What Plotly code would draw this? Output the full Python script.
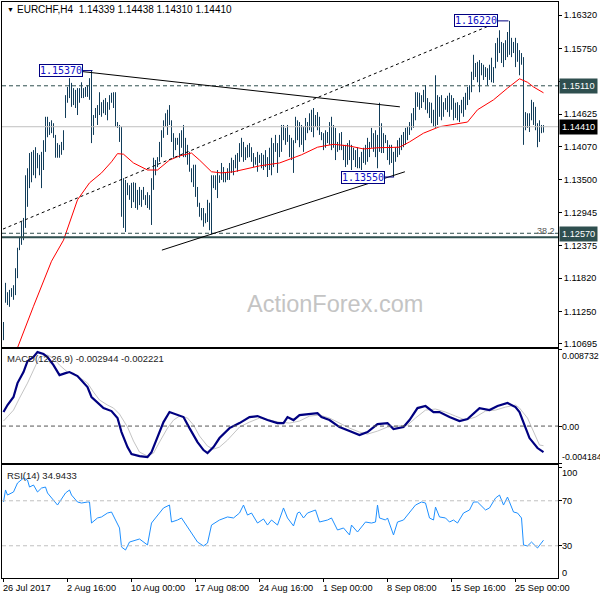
import plotly.graph_objects as go

# ---------------- data ----------------
highs = [
    1.1107, 1.1174, 1.1158, 1.1162, 1.1165, 1.1170, 1.1199, 1.1234, 1.1251, 1.1278,
    1.1285, 1.1358, 1.1370, 1.1396, 1.1398, 1.1401, 1.1406, 1.1396, 1.1393, 1.1398,
    1.1418, 1.1458, 1.1458, 1.1449, 1.1452, 1.1447, 1.1427, 1.1413, 1.1410, 1.1415,
    1.1435, 1.1495, 1.1509, 1.1524, 1.1516, 1.1507, 1.1504, 1.1507, 1.1507, 1.1517,
    1.1507, 1.1509, 1.1512, 1.1524, 1.1537, 1.1461, 1.1473, 1.1478, 1.1500, 1.1483,
    1.1487, 1.1490, 1.1483, 1.1495, 1.1499, 1.1500, 1.1500, 1.1449, 1.1444, 1.1441,
    1.1353, 1.1350, 1.1345, 1.1341, 1.1345, 1.1346, 1.1345, 1.1333, 1.1338,
    1.1333, 1.1338, 1.1324, 1.1329, 1.1324, 1.1353, 1.1388, 1.1384, 1.1389, 1.1415,
    1.1435, 1.1452, 1.1464, 1.1470, 1.1478, 1.1452, 1.1430, 1.1422, 1.1422, 1.1430,
    1.1435, 1.1444, 1.1422, 1.1410, 1.1398, 1.1370, 1.1376, 1.1376, 1.1338, 1.1311,
    1.1302, 1.1302, 1.1293, 1.1316, 1.1311, 1.1358, 1.1358, 1.1358, 1.1367, 1.1358,
    1.1379, 1.1372, 1.1362, 1.1370, 1.1379, 1.1388, 1.1384, 1.1393, 1.1396, 1.1413,
    1.1422, 1.1415, 1.1406, 1.1410, 1.1413, 1.1406, 1.1396, 1.1389, 1.1398, 1.1393,
    1.1396, 1.1393, 1.1401, 1.1389, 1.1405,
    1.1422, 1.1413, 1.1427, 1.1413, 1.1427, 1.1444, 1.1444, 1.1439, 1.1444, 1.1427,
    1.1422, 1.1418, 1.1458, 1.1452, 1.1449, 1.1444, 1.1441, 1.1456, 1.1449, 1.1464,
    1.1470, 1.1473, 1.1461, 1.1466, 1.1458, 1.1432, 1.1430, 1.1435, 1.1432, 1.1449,
    1.1458, 1.1444, 1.1439, 1.1415, 1.1430, 1.1432, 1.1410, 1.1410, 1.1413, 1.1418,
    1.1410, 1.1405, 1.1401, 1.1406, 1.1389, 1.1398, 1.1405, 1.1410, 1.1422, 1.1415,
    1.1439, 1.1430, 1.1435, 1.1427, 1.1482, 1.1447, 1.1430, 1.1427, 1.1418, 1.1410,
    1.1410, 1.1398, 1.1406, 1.1418, 1.1422, 1.1427, 1.1432, 1.1439, 1.1441,
    1.1449, 1.1464, 1.1473, 1.1500, 1.1500, 1.1499, 1.1495, 1.1504, 1.1512, 1.1490,
    1.1483, 1.1482, 1.1470, 1.1529, 1.1495, 1.1492, 1.1495, 1.1483, 1.1490, 1.1494,
    1.1499, 1.1495, 1.1490, 1.1482, 1.1483, 1.1478, 1.1487, 1.1492, 1.1499, 1.1509,
    1.1512, 1.1535, 1.1564, 1.1550, 1.1552, 1.1555, 1.1550, 1.1547, 1.1543, 1.1541,
    1.1547, 1.1559, 1.1543, 1.1584, 1.1593, 1.1606, 1.1586, 1.1584, 1.1589, 1.1603,
    1.1622, 1.1593, 1.1586, 1.1593, 1.1584, 1.1572, 1.1567, 1.1560, 1.1466, 1.1464,
    1.1464, 1.1487, 1.1483, 1.1475, 1.1447, 1.1452, 1.1444, 1.14438,
]
lows = [
    1.1076, 1.1140, 1.1136, 1.1133, 1.1150, 1.1145, 1.1153, 1.1182, 1.1230, 1.1239,
    1.1247, 1.1268, 1.1304, 1.1336, 1.1346, 1.1358, 1.1353, 1.1370, 1.1358, 1.1336,
    1.1367, 1.1398, 1.1423, 1.1427, 1.1430, 1.1422, 1.1388, 1.1388, 1.1388, 1.1393,
    1.1401, 1.1456, 1.1482, 1.1490, 1.1475, 1.1478, 1.1473, 1.1461, 1.1482, 1.1490,
    1.1490, 1.1492, 1.1492, 1.1487, 1.1413, 1.1427, 1.1456, 1.1444, 1.1461, 1.1458,
    1.1464, 1.1461, 1.1452, 1.1470, 1.1482, 1.1473, 1.1441, 1.1439, 1.1415, 1.1287,
    1.1268, 1.1261, 1.1324, 1.1316, 1.1302, 1.1312, 1.1302, 1.1299, 1.1307,
    1.1304, 1.1316, 1.1307, 1.1302, 1.1299, 1.1273, 1.1333, 1.1358, 1.1372, 1.1381,
    1.1389, 1.1422, 1.1441, 1.1427, 1.1444, 1.1415, 1.1388, 1.1401, 1.1410, 1.1388,
    1.1405, 1.1389, 1.1389, 1.1376, 1.1364, 1.1346, 1.1338, 1.1321, 1.1304, 1.1287,
    1.1281, 1.1270, 1.1276, 1.1278, 1.1264, 1.1257, 1.1336, 1.1333, 1.1319, 1.1345,
    1.1350, 1.1346, 1.1346, 1.1350, 1.1350, 1.1362, 1.1358, 1.1370, 1.1364, 1.1381,
    1.1389, 1.1381, 1.1384, 1.1388, 1.1389, 1.1381, 1.1372, 1.1376, 1.1364, 1.1379,
    1.1370, 1.1367, 1.1372, 1.1355, 1.1367,
    1.1358, 1.1372, 1.1398, 1.1362, 1.1389, 1.1398, 1.1418, 1.1410, 1.1415, 1.1389,
    1.1384, 1.1362, 1.1413, 1.1418, 1.1406, 1.1410, 1.1398, 1.1418, 1.1430, 1.1435,
    1.1432, 1.1423, 1.1441, 1.1435, 1.1427, 1.1418, 1.1401, 1.1405, 1.1413, 1.1410,
    1.1401, 1.1405, 1.1384, 1.1398, 1.1401, 1.1401, 1.1384, 1.1372, 1.1376, 1.1384,
    1.1367, 1.1384, 1.1372, 1.1370, 1.1370, 1.1367, 1.1379, 1.1376, 1.1381, 1.1389,
    1.1405, 1.1398, 1.1389, 1.1370, 1.1398, 1.1396, 1.1396, 1.1413, 1.1384, 1.1376,
    1.1379, 1.1355, 1.1381, 1.1389, 1.1393, 1.1401, 1.1406, 1.1410, 1.1418,
    1.1427, 1.1435, 1.1439, 1.1452, 1.1475, 1.1470, 1.1473, 1.1483, 1.1470, 1.1464,
    1.1456, 1.1447, 1.1441, 1.1439, 1.1444, 1.1458, 1.1452, 1.1458, 1.1470, 1.1466,
    1.1458, 1.1470, 1.1452, 1.1456, 1.1452, 1.1449, 1.1464, 1.1458, 1.1470, 1.1478,
    1.1487, 1.1500, 1.1521, 1.1526, 1.1517, 1.1500, 1.1529, 1.1521, 1.1526, 1.1512,
    1.1521, 1.1517, 1.1516, 1.1541, 1.1552, 1.1567, 1.1550, 1.1543, 1.1555, 1.1560,
    1.1564, 1.1560, 1.1567, 1.1543, 1.1552, 1.1529, 1.1547, 1.1410, 1.1435, 1.1439,
    1.1432, 1.1452, 1.1444, 1.1435, 1.1406, 1.1415, 1.1430, 1.14310,
]

ma_idx = [0, 7, 15, 24, 30, 37, 43, 49, 54, 57, 60, 65, 72, 77, 83, 88, 94, 98, 104, 109,
          115, 122, 128, 138, 145, 149, 157, 165, 173, 180, 187, 192, 198, 203, 210, 218,
          227, 232, 237, 245, 252, 258, 262, 265, 270]
ma_val = [1.0994, 1.1063, 1.1134, 1.1211, 1.1247, 1.1316, 1.1345, 1.1362, 1.1381, 1.1395,
          1.1394, 1.1379, 1.1367, 1.1367, 1.1384, 1.1391, 1.1396, 1.1384, 1.1364, 1.1362,
          1.1364, 1.1370, 1.1374, 1.1379, 1.1388, 1.1393, 1.1406, 1.1411, 1.1408, 1.1403,
          1.1405, 1.1406, 1.1406, 1.1415, 1.1430, 1.1441, 1.1446, 1.1449, 1.1470, 1.1487,
          1.1507, 1.1523, 1.1517, 1.1509, 1.1499]

macd_idx = [0, 2, 5, 7, 10, 12, 15, 17, 20, 22, 25, 28, 31, 33, 37, 39, 42, 44, 47, 50,
            54, 57, 59, 62, 64, 68, 72, 74, 77, 80, 83, 87, 90, 93, 97, 100, 102, 105, 108, 113,
            118, 123, 127, 132, 137, 140, 142, 145, 148, 157, 159, 163, 168, 173, 178, 182, 187,
            192, 195, 200, 203, 207, 211, 215, 218, 223, 228, 232, 235, 238, 243, 247, 252, 256,
            258, 261, 263, 267, 270]
macd_val = [0.00159, 0.00238, 0.00329, 0.00487, 0.00612, 0.00736, 0.00782, 0.00838, 0.00816, 0.00782,
            0.00691, 0.00578, 0.00600, 0.00612, 0.00567, 0.00521, 0.00442, 0.00329, 0.00261, 0.00204,
            0.00170, 0.00091, -0.00068, -0.00238, -0.00317, -0.00340, -0.00351, -0.00295, -0.00125, 0.00045,
            0.00159, 0.00125, 0.00102, -0.00023, -0.00181, -0.00272, -0.00306, -0.00238, -0.00136, -0.00023,
            0.00034, 0.00102, 0.00113, 0.00068, 0.00034, 0.00034, 0.00102, 0.00068, 0.00125, 0.00147,
            0.00102, 0.00068, -0.00011, -0.00057, -0.00102, -0.00068, 0.00023, 0.00034, -0.00034, -0.00011,
            0.00068, 0.00204, 0.00227, 0.00159, 0.00159, 0.00102, 0.00057, 0.00079, 0.00147, 0.00204,
            0.00181, 0.00227, 0.00261, 0.00215, 0.00159, -0.00011, -0.00136, -0.00249, -0.002944]

signal_idx = [0, 5, 8, 12, 15, 18, 22, 25, 28, 32, 35, 38, 42, 45, 48, 52, 55, 58, 62, 65,
              68, 72, 75, 78, 82, 85, 88, 92, 95, 98, 102, 105, 108, 112, 115, 118, 123, 128, 133,
              138, 143, 148, 153, 158, 163, 168, 173, 178, 182, 187, 192, 197, 202, 206, 211, 216,
              221, 226, 231, 236, 241, 246, 251, 256, 258, 262, 265, 268, 270]
signal_val = [0.00057, 0.00181, 0.00317, 0.00487, 0.00634, 0.00782, 0.00804, 0.00770, 0.00691, 0.00612,
              0.00600, 0.00555, 0.00487, 0.00385, 0.00295, 0.00238, 0.00204, 0.00136, -0.00011, -0.00170,
              -0.00295, -0.00340, -0.00306, -0.00181, -0.00023, 0.00068, 0.00113, 0.00091, 0.00011, -0.00113,
              -0.00227, -0.00261, -0.00238, -0.00159, -0.00079, -0.00011, 0.00045, 0.00091, 0.00068, 0.00045,
              0.00034, 0.00057, 0.00113, 0.00125, 0.00091, 0.00034, -0.00023, -0.00068, -0.00091, -0.00057,
              -0.00011, 0.00000, 0.00011, 0.00091, 0.00181, 0.00193, 0.00159, 0.00113, 0.00068, 0.00102,
              0.00170, 0.00181, 0.00215, 0.00238, 0.00204, 0.00091, -0.00068, -0.00215, -0.002221]

rsi_idx = [0, 1, 2, 5, 7, 10, 12, 13, 15, 17, 19, 21, 22, 25, 27, 28, 31, 33, 34, 37,
           39, 42, 43, 44, 47, 49, 52, 54, 56, 58, 59, 61, 63, 67, 68, 72, 74, 76, 78, 80,
           83, 84, 87, 89, 92, 94, 97, 100, 102, 104, 108, 112, 115, 118, 120, 122, 124, 127, 130, 132,
           134, 137, 140, 142, 145, 147, 148, 150, 152, 156, 158, 162, 164, 167, 170, 173, 174, 177, 181, 184,
           186, 187, 188, 191, 192, 195, 197, 200, 203, 206, 209, 211, 213, 215, 216, 218, 221, 223, 225, 227,
           230, 233, 235, 237, 241, 243, 246, 248, 250, 252, 255, 257, 259, 260, 262, 264, 267, 270]
rsi_val = [68.9, 79.6, 75.1, 77.8, 85.8, 90.2, 88.4, 82.2, 84.0, 77.8, 81.3, 82.2, 76.9, 70.7, 66.2, 68.9,
           76.9, 79.6, 75.1, 68.9, 68.0, 68.9, 68.9, 50.2, 54.7, 55.6, 59.1, 60.0, 52.9, 45.8,
           28.9, 26.2, 33.3, 35.1, 36.0, 30.7, 50.2, 54.7, 59.1, 63.6, 66.2, 51.1, 52.9, 54.7, 46.7,
           41.3, 33.3, 29.8, 32.4, 48.4, 52.9, 55.6, 54.7, 59.1, 66.2, 57.3, 59.1, 50.2, 53.8, 48.4,
           52.9, 48.4, 63.6, 54.7, 47.6, 59.1, 60.0, 54.7, 59.1, 61.8, 51.1, 52.9, 54.7, 44.0, 45.8,
           39.6, 48.4, 42.2, 51.1, 50.2, 51.1, 66.2, 54.7, 52.9, 54.7, 39.6, 51.1, 52.9, 59.1, 66.2,
           68.9, 68.0, 54.7, 52.9, 64.4, 55.6, 54.7, 51.1, 52.9, 50.2, 59.1, 61.8, 68.9, 68.9, 61.8,
           63.6, 72.4, 75.1, 66.2, 73.3, 60.0, 59.1, 54.7, 30.7, 29.8, 33.3, 28.0, 34.94]

date_idx = [0, 32, 64, 96, 128, 160, 192, 224, 256]
date_labels = ["26 Jul 2017", "2 Aug 16:00", "10 Aug 00:00", "17 Aug 08:00", "24 Aug 16:00",
               "1 Sep 00:00", "8 Sep 08:00", "15 Sep 16:00", "25 Sep 00:00"]
price_ticks = [1.16320, 1.15750, 1.15185, 1.14625, 1.14070, 1.13500, 1.12945,
               1.12375, 1.11820, 1.11250, 1.10695]

res_level = 1.15110
last_price = 1.14410
sup_level = 1.12570
fib_level = 1.12588
sup_line = 1.12519
peak1 = 1.15370
peak2 = 1.16220
trough = 1.13550

# trendline anchor points (bar index, price)
tl_upper = [(27, 1.1540), (198.2, 1.1475)]
tl_channel = [(-0.25, 1.1266), (247.3, 1.1620)]
tl_lower = [(79.2, 1.1230), (200.7, 1.1364)]

# ---------------- figure ----------------
W, H = 600, 600
ML, MR, MT, MB = 2, 42, 2, 22
PW, PH = W - ML - MR, H - MT - MB


def px_x(p):
    return (p - ML) / PW


def px_y(p):
    return (H - MB - p) / PH


FONT = "Liberation Sans"
FS = 9.2
BAR_COLOR = "#123D5A"
SLATE = "#2F4F4F"

fig = go.Figure()

bx, by = [], []
for i, (h, l) in enumerate(zip(highs, lows)):
    bx += [i, i, None]
    by += [l, h, None]
fig.add_trace(go.Scatter(x=bx, y=by, mode="lines", line=dict(color=BAR_COLOR, width=1),
                         xaxis="x", yaxis="y", hoverinfo="skip"))
fig.add_trace(go.Scatter(x=ma_idx, y=ma_val, mode="lines", line=dict(color="#FF0000", width=1),
                         xaxis="x", yaxis="y", hoverinfo="skip"))
fig.add_trace(go.Scatter(x=signal_idx, y=signal_val, mode="lines", line=dict(color="#C4C4C4", width=1),
                         xaxis="x2", yaxis="y2", hoverinfo="skip"))
fig.add_trace(go.Scatter(x=macd_idx, y=macd_val, mode="lines", line=dict(color="#000080", width=2.2),
                         xaxis="x2", yaxis="y2", hoverinfo="skip"))
fig.add_trace(go.Scatter(x=rsi_idx, y=rsi_val, mode="lines", line=dict(color="#1E90FF", width=1),
                         xaxis="x3", yaxis="y3", hoverinfo="skip"))

xrange = [-0.75, 277.25]
common_x = dict(range=xrange, showline=True, mirror=True, linecolor="black", linewidth=1,
                showgrid=False, zeroline=False, showticklabels=False, fixedrange=True)
common_y = dict(side="right", showline=True, mirror=True, linecolor="black", linewidth=1,
                showgrid=False, zeroline=False, ticks="outside", ticklen=3, tickcolor="black",
                tickfont=dict(family=FONT, size=FS, color="black"), fixedrange=True)

d_price = [px_y(347), 1.0]
d_macd = [px_y(463), px_y(349)]
d_rsi = [0.0, px_y(465)]

fig.update_layout(
    width=W, height=H, margin=dict(l=ML, r=MR, t=MT, b=MB),
    paper_bgcolor="white", plot_bgcolor="white", showlegend=False,
    xaxis=dict(**common_x, anchor="y", ticks=""),
    xaxis2=dict(**common_x, anchor="y2", ticks="", matches="x"),
    xaxis3=dict(**common_x, anchor="y3", matches="x", ticks="outside", ticklen=3,
                tickcolor="black", tickvals=date_idx, ticktext=[""] * len(date_idx)),
    yaxis=dict(**common_y, domain=d_price, anchor="x", range=[1.10643, 1.16543],
               tickvals=price_ticks, ticktext=["%.5f" % v for v in price_ticks]),
    yaxis2=dict(**common_y, domain=d_macd, anchor="x2", range=[-0.004184, 0.008732],
                tickvals=[0.008732, 0.0, -0.004184], ticktext=["", "", ""]),
    yaxis3=dict(**common_y, domain=d_rsi, anchor="x3", range=[1.33, 101.8],
                tickvals=[100, 70, 30], ticktext=["", "", ""]),
)

shapes = []
# horizontal levels
shapes.append(dict(type="line", xref="paper", yref="y", x0=0, x1=1, y0=res_level, y1=res_level,
                   line=dict(color=SLATE, width=1, dash="4px,3px")))
shapes.append(dict(type="line", xref="paper", yref="y", x0=0, x1=1, y0=last_price, y1=last_price,
                   line=dict(color="#C0C0C0", width=1)))
shapes.append(dict(type="line", xref="paper", yref="y", x0=0, x1=1, y0=fib_level, y1=fib_level,
                   line=dict(color=SLATE, width=1, dash="4px,3px")))
shapes.append(dict(type="line", xref="paper", yref="y", x0=0, x1=1, y0=sup_line, y1=sup_line,
                   line=dict(color=SLATE, width=2)))
# trendlines
shapes.append(dict(type="line", xref="x", yref="y", x0=tl_upper[0][0], y0=tl_upper[0][1],
                   x1=tl_upper[1][0], y1=tl_upper[1][1], line=dict(color="black", width=1)))
shapes.append(dict(type="line", xref="x", yref="y", x0=tl_channel[0][0], y0=tl_channel[0][1],
                   x1=tl_channel[1][0], y1=tl_channel[1][1],
                   line=dict(color="black", width=1, dash="3px,3px")))
shapes.append(dict(type="line", xref="x", yref="y", x0=tl_lower[0][0], y0=tl_lower[0][1],
                   x1=tl_lower[1][0], y1=tl_lower[1][1], line=dict(color="black", width=1)))
# pointers from price labels
shapes.append(dict(type="line", xref="x", yref="y", x0=39.2, x1=44.5, y0=peak1, y1=peak1,
                   line=dict(color="#000080", width=1)))
shapes.append(dict(type="line", xref="x", yref="y", x0=246.8, x1=252.5, y0=peak2, y1=peak2,
                   line=dict(color="#000080", width=1)))
shapes.append(dict(type="line", xref="x", yref="y", x0=189.8, x1=195.3, y0=trough, y1=trough,
                   line=dict(color="#000080", width=1)))
# indicator reference lines
shapes.append(dict(type="line", xref="paper", yref="y2", x0=0, x1=1, y0=0, y1=0,
                   line=dict(color="#555555", width=1, dash="4px,3px")))
for lv in (70, 30):
    shapes.append(dict(type="line", xref="paper", yref="y3", x0=0, x1=1, y0=lv, y1=lv,
                       line=dict(color="#C0C0C0", width=1, dash="4px,3px")))
fig.update_layout(shapes=shapes)

ann = []


def text(x, y, s, size=FS, color="black", xanchor="left", yanchor="middle", family=FONT, **kw):
    ann.append(dict(xref="paper", yref="paper", x=px_x(x), y=px_y(y), text=s, showarrow=False,
                    xanchor=xanchor, yanchor=yanchor, font=dict(family=family, size=size, color=color),
                    borderpad=0, **kw))


# watermark
text(335, 304, "ActionForex.com", size=23.5, color="#C4C4C4", xanchor="center")
# headers
text(6, 10, "▼", size=7)
text(16, 10, "EURCHF,H4  1.14339 1.14438 1.14310 1.14410", size=10)
text(6, 358, "MACD(12,26,9) -0.002944 -0.002221", size=9.5, color="#222222")
text(6, 475, "RSI(14) 34.9433", size=9.5, color="#222222")
text(556, 231, "38.2", size=9, color="#555555", xanchor="right")
# indicator scale labels
text(561, 356, "0.008732", size=8.8)
text(561, 426.5, "0.00", size=8.8)
text(561, 457, "-0.004184", size=8.8)
text(561, 472.5, "100", size=FS)
text(561, 500.5, "70", size=FS)
text(561, 545.5, "30", size=FS)
text(561, 572.5, "0", size=FS)

# axis value boxes
for val, bg in ((res_level, SLATE), (last_price, "black"), (sup_level, SLATE)):
    ann.append(dict(xref="paper", yref="y", x=1.0, y=val, xshift=1, text="%.5f" % val,
                    showarrow=False, xanchor="left", yanchor="middle", bgcolor=bg,
                    font=dict(family=FONT, size=FS, color="white"), borderpad=2))

# price labels on chart
for xi, val in ((28.5, peak1), (236.3, peak2), (179.5, trough)):
    ann.append(dict(xref="x", yref="y", x=xi, y=val, text="%.5f" % val, showarrow=False,
                    xanchor="center", yanchor="middle", bgcolor="white", bordercolor="#000080",
                    borderwidth=1, borderpad=0,
                    font=dict(family="DejaVu Sans Mono", size=10, color="#1010C8")))

# date labels
for xi, lab in zip(date_idx, date_labels):
    ann.append(dict(xref="x3", yref="paper", x=xi, y=px_y(588), text=lab, showarrow=False,
                    xanchor="left", yanchor="middle", xshift=-2,
                    font=dict(family=FONT, size=FS, color="black"), borderpad=0))

fig.update_layout(annotations=ann)

fig.write_html("out.html", config={"displayModeBar": False},
               post_script="document.body.style.margin='0';document.body.style.overflow='hidden';")
